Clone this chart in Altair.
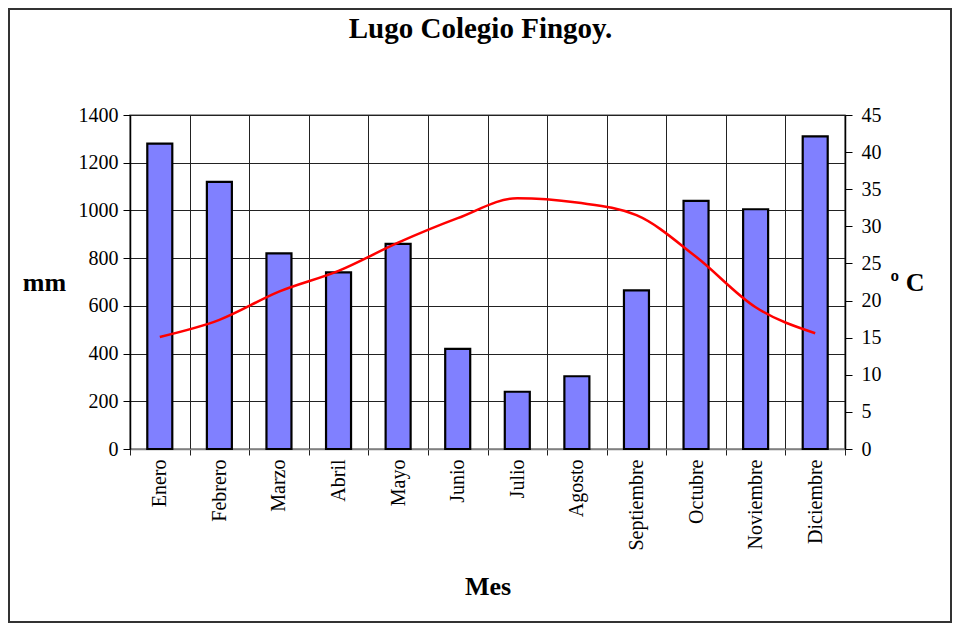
import altair as alt
import pandas as pd

meses = ["Enero", "Febrero", "Marzo", "Abril", "Mayo", "Junio", "Julio",
         "Agosto", "Septiembre", "Octubre", "Noviembre", "Diciembre"]
precipitacion = [1280, 1120, 820, 740, 860, 420, 240, 305, 665, 1040, 1005, 1310]
temperatura = [15.1, 17.4, 21.2, 24.0, 27.8, 31.1, 33.8, 33.2, 31.5, 25.9, 19.1, 15.6]

df = pd.DataFrame({"Mes": meses, "mm": precipitacion, "temp": temperatura})

FONT = "Liberation Serif"
W, H = 715, 334
PAD = {"left": 122, "top": 107, "right": 107, "bottom": 174}

x_enc = alt.X(
    "Mes:N", sort=meses,
    scale=alt.Scale(paddingInner=0, paddingOuter=0),
    axis=alt.Axis(
        title="Mes", labelAngle=-90, tickBand="extent", grid=True,
        gridColor="#222222", gridWidth=1, ticks=True, tickSize=6,
        tickColor="#222222", domainColor="#808080", domainWidth=1.5,
        labelPadding=4, labelFont=FONT, labelFontSize=20, labelColor="#000000",
        titleFont=FONT, titleFontSize=26, titleFontWeight="bold", titleColor="#000000",
        titleX=W / 2, titleY=137, titleAlign="center", titleBaseline="middle",
    ),
)

bars = alt.Chart(df).mark_bar(
    size=25, fill="#8080FF", stroke="#000000", strokeWidth=2.2
).encode(
    x=x_enc,
    y=alt.Y(
        "mm:Q", scale=alt.Scale(domain=[0, 1400], nice=False),
        axis=alt.Axis(
            title="mm", values=list(range(0, 1401, 200)), format="d", grid=True,
            gridColor="#222222", gridWidth=1, tickSize=7, tickColor="#000000",
            domainColor="#000000", domainWidth=1.5, labelPadding=5,
            labelFont=FONT, labelFontSize=20, labelColor="#000000",
            titleFont=FONT, titleFontSize=26, titleFontWeight="bold", titleColor="#000000",
            titleAngle=0, titleX=-86, titleY=167, titleAlign="center", titleBaseline="middle",
        ),
    ),
)

line = alt.Chart(df).mark_line(
    color="#FF0000", strokeWidth=2.5, interpolate="monotone"
).encode(
    x=alt.X("Mes:N", sort=meses),
    y=alt.Y(
        "temp:Q", scale=alt.Scale(domain=[0, 45], nice=False),
        axis=alt.Axis(
            title="º C", orient="right", values=list(range(0, 46, 5)), grid=False,
            tickSize=7, tickColor="#000000", domainColor="#000000", domainWidth=1.5,
            labelPadding=9, labelFont=FONT, labelFontSize=20, labelColor="#000000",
            titleFont=FONT, titleFontSize=26, titleFontWeight="bold", titleColor="#000000",
            titleAngle=0, titleX=62, titleY=167, titleAlign="center", titleBaseline="middle",
        ),
    ),
)

border = alt.Chart(pd.DataFrame({"b": [0]})).mark_rect(
    fill=None, stroke="#333333", strokeWidth=2
).encode(
    x=alt.value(-121), x2=alt.value(821), y=alt.value(-106), y2=alt.value(507)
)

chart = alt.layer(bars, line, border).resolve_scale(y="independent").properties(
    width=W, height=H,
    padding=PAD,
    autosize=alt.AutoSizeParams(type="none"),
    background="#FFFFFF",
    title=alt.TitleParams(
        "Lugo Colegio Fingoy.", font=FONT, fontSize=29, fontWeight="bold",
        color="#000000", anchor="middle", frame="group", offset=-36, dx=-7,
    ),
).configure_view(stroke="#808080", strokeWidth=1.5)

chart.save("out.html", embed_options={"renderer": "svg", "actions": False})
